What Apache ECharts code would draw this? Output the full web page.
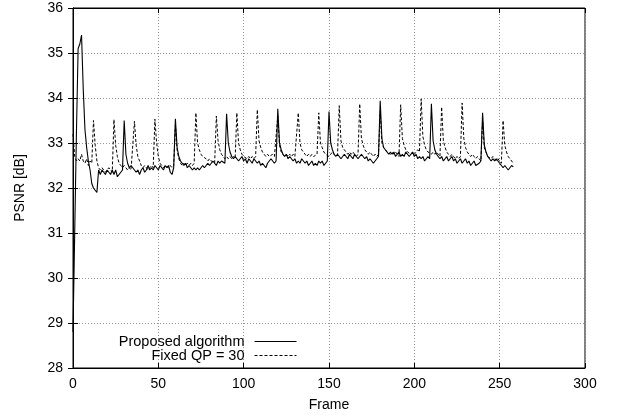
<!DOCTYPE html>
<html>
<head>
<meta charset="utf-8">
<script src="https://cdn.jsdelivr.net/npm/echarts@6/dist/echarts.min.js"></script>
<style>html,body{margin:0;padding:0;background:#fff}#c{width:620px;height:420px}</style>
</head>
<body>
<div id="c"></div>
<script>
var xTicks = [0, 50, 100, 150, 200, 250, 300];
var yTicks = [28, 29, 30, 31, 32, 33, 34, 35, 36];
var seriesNames = ['Proposed algorithm', 'Fixed QP = 30'];

// PSNR per frame (frame index = array position)
var proposed = [
28.8,31.0,33.2,35.1,35.2,35.4,34.2,33.3,32.9,32.6,
32.4,32.1,32.0,31.95,31.9,32.4,32.3,32.4,32.35,32.3,
32.4,32.35,32.3,32.4,32.3,32.4,32.25,32.3,32.35,32.4,
33.5,32.75,32.55,32.45,32.5,32.45,32.4,32.35,32.4,32.3,
32.4,32.45,32.35,32.4,32.5,32.4,32.45,32.4,32.5,32.45,
32.4,32.5,32.45,32.4,32.5,32.45,32.5,32.35,32.3,32.45,
33.54,32.9,32.7,32.6,32.55,32.5,32.55,32.45,32.5,32.45,
32.4,32.45,32.4,32.45,32.4,32.45,32.5,32.45,32.5,32.55,
32.5,32.55,32.6,32.55,32.5,32.6,32.55,32.6,32.6,32.55,
33.65,33.0,32.8,32.7,32.65,32.7,32.65,32.6,32.65,32.7,
32.6,32.65,32.55,32.65,32.6,32.55,32.65,32.6,32.55,32.6,
32.5,32.55,32.5,32.45,32.55,32.6,32.65,32.6,32.55,32.6,
33.76,33.0,32.85,32.75,32.7,32.75,32.65,32.7,32.65,32.6,
32.65,32.55,32.6,32.55,32.65,32.6,32.55,32.6,32.5,32.55,
32.6,32.5,32.55,32.5,32.6,32.55,32.6,32.5,32.55,32.6,
33.7,33.0,32.85,32.75,32.7,32.75,32.7,32.65,32.7,32.75,
32.7,32.65,32.75,32.7,32.65,32.75,32.7,32.65,32.7,32.75,
32.7,32.65,32.7,32.6,32.65,32.6,32.55,32.58,32.65,32.7,
33.94,33.1,32.9,32.85,32.8,32.75,32.8,32.75,32.8,32.7,
32.75,32.8,32.7,32.75,32.7,32.8,32.75,32.7,32.75,32.8,
32.7,32.75,32.65,32.7,32.65,32.7,32.6,32.65,32.7,32.65,
33.87,33.05,32.85,32.75,32.7,32.65,32.7,32.6,32.65,32.7,
32.6,32.65,32.7,32.6,32.65,32.55,32.6,32.65,32.55,32.6,
32.65,32.55,32.6,32.5,32.55,32.6,32.5,32.47,32.55,32.6,
33.67,32.95,32.8,32.7,32.65,32.6,32.65,32.6,32.65,32.6,
32.55,32.5,32.45,32.5,32.45,32.4,32.45,32.5,32.47
];

var fixedQP = [
33.2,32.7,32.6,32.65,32.6,32.75,32.6,32.55,32.65,32.5,
32.6,32.55,33.5,32.95,32.6,32.45,32.4,32.45,32.4,32.35,
32.4,32.45,32.4,32.35,33.52,32.95,32.7,32.55,32.5,32.45,
32.5,32.45,32.4,32.45,32.4,32.4,33.48,32.95,32.7,32.6,
32.5,32.45,32.5,32.45,32.4,32.45,32.5,32.45,33.53,33.0,
32.7,32.55,32.5,32.45,32.5,32.5,32.45,32.5,32.45,32.5,
33.4,32.85,32.65,32.55,32.5,32.55,32.5,32.55,32.5,32.55,
32.5,32.55,33.67,33.0,32.85,32.75,32.7,32.7,32.65,32.6,
32.65,32.6,32.6,32.55,33.6,33.05,32.85,32.75,32.7,32.65,
32.7,32.65,32.7,32.65,32.7,32.65,33.67,33.0,32.85,32.75,
32.7,32.7,32.65,32.7,32.65,32.7,32.65,32.7,33.74,33.05,
32.9,32.8,32.75,32.7,32.75,32.7,32.7,32.75,32.7,32.7,
33.6,32.95,32.8,32.75,32.7,32.75,32.7,32.75,32.7,32.75,
32.7,32.7,33.67,33.0,32.85,32.8,32.75,32.7,32.75,32.7,
32.75,32.7,32.7,32.75,33.67,33.0,32.9,32.8,32.75,32.75,
32.7,32.75,32.8,32.75,32.7,32.75,33.83,33.05,32.9,32.85,
32.8,32.75,32.8,32.75,32.8,32.75,32.7,32.75,33.87,33.1,
32.95,32.85,32.8,32.75,32.8,32.75,32.7,32.75,32.7,32.75,
33.7,33.0,32.9,32.85,32.8,32.8,32.75,32.8,32.75,32.8,
32.75,32.7,33.85,33.1,32.95,32.85,32.8,32.8,32.75,32.8,
32.75,32.8,32.85,32.8,33.98,33.15,32.95,32.85,32.8,32.8,
32.75,32.8,32.75,32.8,32.75,32.7,33.8,33.05,32.9,32.8,
32.75,32.7,32.75,32.7,32.65,32.7,32.65,32.7,33.89,33.1,
32.9,32.8,32.75,32.7,32.75,32.7,32.65,32.7,32.65,32.6,
33.5,32.9,32.8,32.7,32.7,32.65,32.7,32.65,32.6,32.65,
32.6,32.55,33.5,32.95,32.8,32.7,32.65,32.6,32.55
];

var FONT = 'Liberation Sans';
var FS = 14;
var chart = echarts.init(document.getElementById('c'), null, {renderer: 'canvas'});

function toPairs(arr) { return arr.map(function (v, i) { return [i, v]; }); }

var gridLine = {show: true, lineStyle: {color: '#999', width: 1, type: [1, 2]}};

function legendFor(name, top, lineType) {
  return {
    orient: 'vertical', right: 318, top: top, align: 'right',
    itemWidth: 42, itemHeight: 10, itemGap: 0,
    itemStyle: {opacity: 0},
    lineStyle: {width: 1, color: '#000', type: lineType},
    selectedMode: false,
    textStyle: {fontFamily: FONT, fontSize: 14.5, color: '#000', padding: [0, 5, 0, 0]},
    data: [name]
  };
}

chart.setOption({
  animation: false,
  backgroundColor: '#fff',
  textStyle: {fontFamily: FONT},
  grid: {left: 73, right: 35, top: 8, bottom: 52, show: true, borderColor: '#000', borderWidth: 1, backgroundColor: 'transparent'},
  legend: [legendFor(seriesNames[0], 329, 'solid'), legendFor(seriesNames[1], 343, [3, 2])],
  xAxis: [{
    type: 'value', min: xTicks[0], max: xTicks[xTicks.length - 1], interval: 50,
    name: 'Frame', nameLocation: 'middle', nameGap: 30,
    nameTextStyle: {fontFamily: FONT, fontSize: FS, color: '#000'},
    axisLine: {show: true, lineStyle: {color: '#000', width: 1}},
    axisTick: {show: true, inside: true, length: 5, lineStyle: {color: '#000'}},
    axisLabel: {fontFamily: FONT, fontSize: FS, color: '#000', margin: 9},
    splitLine: gridLine
  }, {
    type: 'value', position: 'top', min: xTicks[0], max: xTicks[xTicks.length - 1], interval: 50,
    axisLine: {show: true, lineStyle: {color: '#000'}},
    axisTick: {show: true, inside: true, length: 5, lineStyle: {color: '#000'}},
    axisLabel: {show: false}, splitLine: {show: false}
  }],
  yAxis: [{
    type: 'value', min: yTicks[0], max: yTicks[yTicks.length - 1], interval: 1,
    name: 'PSNR [dB]', nameLocation: 'middle', nameGap: 46,
    nameTextStyle: {fontFamily: FONT, fontSize: FS, color: '#000'},
    axisLine: {show: true, lineStyle: {color: '#000', width: 1}},
    axisTick: {show: true, inside: true, length: 5, lineStyle: {color: '#000'}},
    axisLabel: {fontFamily: FONT, fontSize: FS, color: '#000', margin: 10},
    splitLine: gridLine
  }, {
    type: 'value', position: 'right', min: yTicks[0], max: yTicks[yTicks.length - 1], interval: 1,
    axisLine: {show: true, lineStyle: {color: '#000'}},
    axisTick: {show: true, inside: true, length: 5, lineStyle: {color: '#000'}},
    axisLabel: {show: false}, splitLine: {show: false}
  }],
  series: [{
    name: seriesNames[0], type: 'line', data: toPairs(proposed),
    symbol: 'none', smooth: false, z: 3,
    lineStyle: {color: '#000', width: 1.1, type: 'solid'},
    itemStyle: {color: '#000'}
  }, {
    name: seriesNames[1], type: 'line', data: toPairs(fixedQP),
    symbol: 'none', smooth: false, z: 2,
    lineStyle: {color: '#000', width: 1, type: [3, 2]},
    itemStyle: {color: '#000'}
  }]
});
</script>
</body>
</html>
